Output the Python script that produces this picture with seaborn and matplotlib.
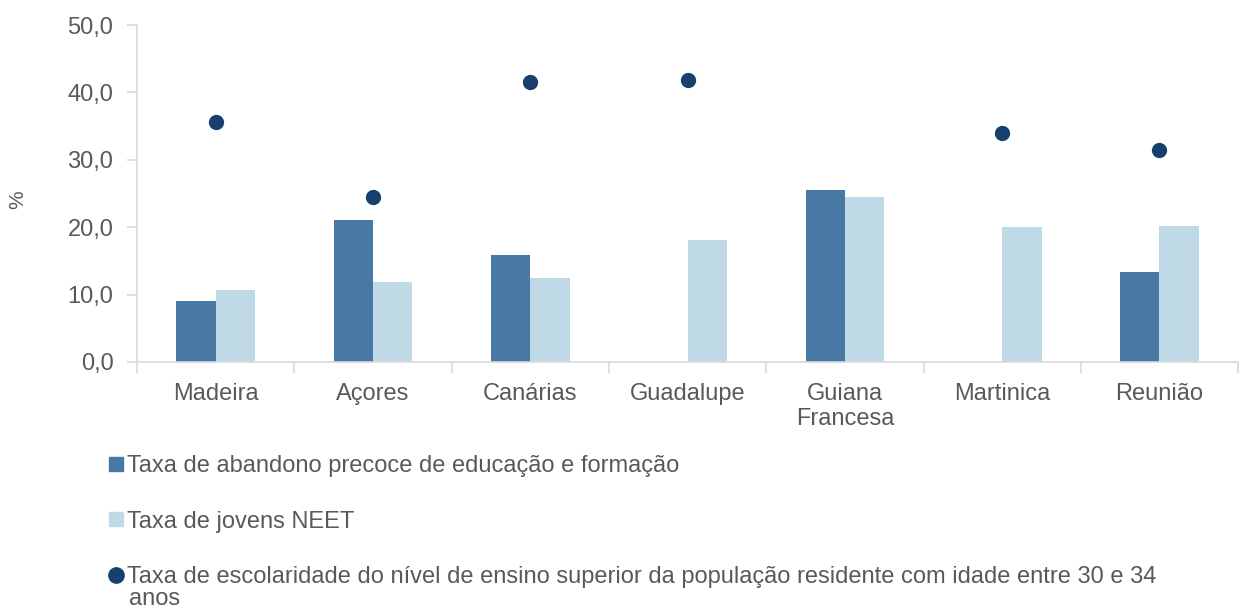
import numpy as np
import pandas as pd
import seaborn as sns
import matplotlib.pyplot as plt

# Data
regions = ["Madeira", "Açores", "Canárias", "Guadalupe", "Guiana\nFrancesa", "Martinica", "Reunião"]
abandono = [9.1, 21.1, 15.9, np.nan, 25.5, np.nan, 13.3]
neet = [10.7, 11.9, 12.5, 18.1, 24.5, 20.0, 20.2]
ensino_superior = [35.6, 24.5, 41.5, 41.8, np.nan, 34.0, 31.5]

lab_abandono = "Taxa de abandono precoce de educação e formação"
lab_neet = "Taxa de jovens NEET"
lab_sup = "Taxa de escolaridade do nível de ensino superior da população residente com idade entre 30 e 34"
lab_sup_2 = "anos"

dark = "#4878A4"
light = "#C0D9E6"
navy = "#17406D"
grey = "#595959"

sns.set_theme(style="white")
plt.rcParams["font.family"] = ["Liberation Sans", "DejaVu Sans"]

df = pd.DataFrame({
    "region": regions * 2,
    "serie": [lab_abandono] * len(regions) + [lab_neet] * len(regions),
    "valor": abandono + neet,
})

fig = plt.figure(figsize=(12.4, 6.12), dpi=100)
ax = fig.add_axes([0.1105, 0.4085, 0.888, 0.5505])

sns.barplot(data=df, x="region", y="valor", hue="serie", order=regions,
            hue_order=[lab_abandono, lab_neet], palette=[dark, light],
            width=0.5, errorbar=None, saturation=1, linewidth=0, ax=ax, legend=False)

sns.stripplot(x=regions, y=ensino_superior, order=regions, jitter=False,
              color=navy, size=11, linewidth=0, ax=ax, zorder=5)

ax.set_ylim(0, 50)
ax.set_xlim(-0.5, len(regions) - 0.5)
ax.set_yticks(np.arange(0, 51, 10))
ax.set_yticklabels([f"{v:.1f}".replace(".", ",") for v in np.arange(0, 51, 10)])
ax.set_xlabel("")
ax.set_ylabel("")
fig.text(18 / 1240, 1 - 200 / 612, "%", rotation=90, color=grey, fontsize=15,
         ha="center", va="center")

for s in ["top", "right"]:
    ax.spines[s].set_visible(False)
for s in ["left", "bottom"]:
    ax.spines[s].set_color("#D9D9D9")
    ax.spines[s].set_linewidth(1.2)

ax.tick_params(axis="y", colors="#D9D9D9", labelcolor=grey, labelsize=17,
               left=True, length=7, width=1.2, pad=10)
ax.tick_params(axis="x", which="major", length=0, labelcolor=grey, labelsize=17, pad=15)
ax.set_xticks(np.arange(-0.5, len(regions), 1), minor=True)
ax.tick_params(axis="x", which="minor", bottom=True, length=8, width=1.2, colors="#D9D9D9")

# legend below the chart
handles = [
    plt.Line2D([], [], marker="s", linestyle="", color=dark, markersize=10),
    plt.Line2D([], [], marker="s", linestyle="", color=light, markersize=10),
    plt.Line2D([], [], marker="o", linestyle="", color=navy, markersize=11),
]
fig.legend(handles, [lab_abandono, lab_neet, lab_sup], loc="upper left",
           bbox_to_anchor=(0.088, 1 - 455 / 612), frameon=False, fontsize=17,
           labelcolor=grey, handlelength=0.6, handletextpad=0.15,
           labelspacing=1.42, borderaxespad=0, borderpad=0)
fig.text(129 / 1240, 1 - 599 / 612, lab_sup_2, color=grey, fontsize=17,
         ha="left", va="center")

fig.savefig("out.png", dpi=100)
